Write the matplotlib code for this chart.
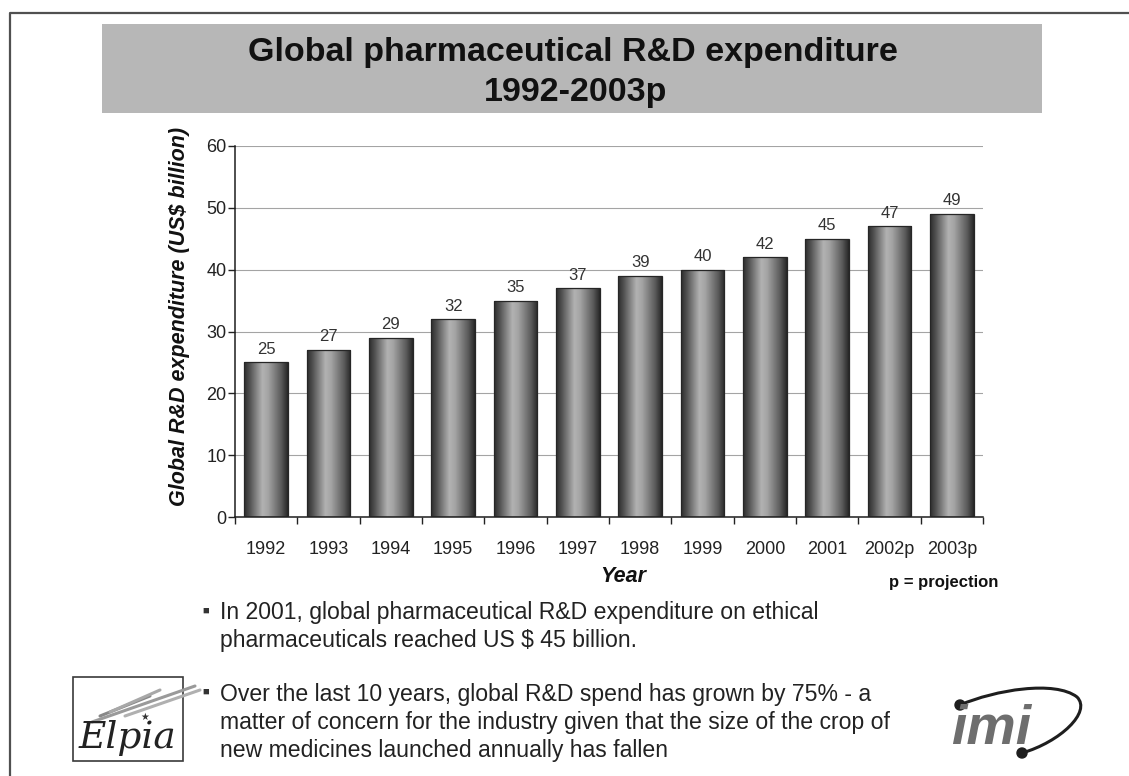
import numpy as np
import matplotlib
matplotlib.use("Agg")
import matplotlib.pyplot as plt
from matplotlib.colors import LinearSegmentedColormap
from matplotlib.patches import Rectangle, PathPatch, Circle
from matplotlib.path import Path

# ---- data -------------------------------------------------------------
years = ["1992", "1993", "1994", "1995", "1996", "1997",
         "1998", "1999", "2000", "2001", "2002p", "2003p"]
spend = [25, 27, 29, 32, 35, 37, 39, 40, 42, 45, 47, 49]
y_ticks = [0, 10, 20, 30, 40, 50, 60]

title_lines = ["Global pharmaceutical R&D expenditure", "1992-2003p"]
y_label = "Global R&D expenditure (US$ billion)"
x_label = "Year"
note = "p = projection"
bullet_1 = ["In 2001, global pharmaceutical R&D expenditure on ethical",
            "pharmaceuticals reached US $ 45 billion."]
bullet_2 = ["Over the last 10 years, global R&D spend has grown by 75% - a",
            "matter of concern for the industry given that the size of the crop of",
            "new medicines launched annually has fallen"]

SANS = ["Liberation Sans", "DejaVu Sans"]

W, H = 1129, 776
fig = plt.figure(figsize=(W / 100, H / 100), dpi=100)
fig.patch.set_facecolor("white")

# page layer in pixel coordinates (y downwards)
page = fig.add_axes([0, 0, 1, 1], zorder=0)
page.set_xlim(0, W)
page.set_ylim(H, 0)
page.axis("off")

# page frame
page.plot([10, 10, W], [H, 13, 13], color="#505050", lw=1.6, solid_capstyle="butt")

# title band
page.add_patch(Rectangle((102, 24), 940, 89, facecolor="#b7b7b7", edgecolor="none"))
page.text(573, 53, title_lines[0], ha="center", va="center", fontsize=24.5,
          fontweight="bold", family=SANS, color="#111111")
page.text(576, 93, title_lines[1], ha="center", va="center", fontsize=24.5,
          fontweight="bold", family=SANS, color="#111111")

# ---- chart ------------------------------------------------------------
ax = fig.add_axes([235 / W, 1 - 517 / H, (983 - 235) / W, (517 - 146) / H], zorder=1)
ax.patch.set_alpha(0)
x = np.arange(len(years))

bars = ax.bar(x, spend, width=0.7, facecolor="none", edgecolor="#262626",
              linewidth=0.9, zorder=3)

# cylinder-style shading inside each bar
cyl = LinearSegmentedColormap.from_list(
    "cyl", [(0.0, "#2c2c2c"), (0.12, "#4e4e4e"), (0.42, "#b2b2b2"),
            (0.55, "#a4a4a4"), (0.85, "#5a5a5a"), (1.0, "#262626")])
grad = np.linspace(0, 1, 256).reshape(1, -1)
for b in bars:
    im = ax.imshow(grad, cmap=cyl, aspect="auto", zorder=2.5,
                   extent=(b.get_x(), b.get_x() + b.get_width(), 0, b.get_height()))
    im.set_clip_path(b)

for xi, v in zip(x, spend):
    ax.annotate(f"{v}", (xi, v), xytext=(0, 4), textcoords="offset points",
                ha="center", va="bottom", fontsize=12, color="#333333", family=SANS)

ax.set_xlim(-0.5, len(years) - 0.5)
ax.set_ylim(0, 60)
ax.set_yticks(y_ticks)
ax.set_xticks(x)
ax.set_xticklabels(years, family=SANS, fontsize=13, color="#222222")
ax.set_xticks(np.arange(-0.5, len(years), 1), minor=True)
for lbl in ax.get_yticklabels():
    lbl.set_family(SANS)
    lbl.set_fontsize(13)
    lbl.set_color("#222222")

ax.tick_params(axis="x", which="major", length=0, pad=17)
ax.tick_params(axis="x", which="minor", length=5, width=1, direction="out", color="#222222")
ax.tick_params(axis="y", length=5, width=1, direction="out", pad=1, color="#222222")

ax.yaxis.grid(True, color="#a4a4a4", lw=0.8)
ax.set_axisbelow(True)
for s in ("top", "right"):
    ax.spines[s].set_visible(False)
for s in ("left", "bottom"):
    ax.spines[s].set_color("#1e1e1e")
    ax.spines[s].set_linewidth(1.1)

# axis titles and note
page.text(180, 316, y_label, rotation=90, ha="center", va="center", fontsize=15.5,
          fontweight="bold", style="italic", family=SANS, color="#111111")
page.text(623, 577, x_label, ha="center", va="center", fontsize=15.5,
          fontweight="bold", style="italic", family=SANS, color="#111111")
page.text(944, 582, note, ha="center", va="center", fontsize=12,
          fontweight="bold", family=SANS, color="#111111")

# ---- bullet text -------------------------------------------------------
def bullet(y0, lines):
    page.text(206, y0 - 2, "\u25A0", ha="center", va="center", fontsize=8,
              color="#333333", family=SANS)
    for i, line in enumerate(lines):
        page.text(220, y0 + 28 * i, line, ha="left", va="center", fontsize=16.6,
                  family=SANS, color="#222222")

bullet(613, bullet_1)
bullet(694, bullet_2)

# ---- Elpia logo -----------------------------------------------------------
page.add_patch(Rectangle((73, 677), 110, 84, facecolor="white",
                         edgecolor="#3a3a3a", lw=1.2))
for (x0, y0, x1, y1, c) in [(92, 722, 195, 686, "#9a9a9a"),
                            (100, 716, 150, 696, "#888888"),
                            (110, 712, 160, 690, "#a8a8a8"),
                            (125, 716, 200, 690, "#b0b0b0")]:
    page.plot([x0, x1], [y0, y1], color=c, lw=2.2, solid_capstyle="round")
page.text(145, 717, "\u2605", ha="center", va="center", fontsize=7, color="#333333",
          family=["DejaVu Sans"])
page.text(127, 738, "Elpia", ha="center", va="center", fontsize=27,
          style="italic", family=["DejaVu Serif"], color="#222222")

# ---- imi logo -------------------------------------------------------------
page.text(991, 730, "imi", ha="center", va="center", fontsize=40,
          fontweight="bold", style="italic", family=SANS, color="#6e6e6e")
arc = Path([(960, 705), (995, 690), (1055, 680), (1077, 697),
            (1092, 712), (1060, 742), (1022, 753)],
           [Path.MOVETO, Path.CURVE4, Path.CURVE4, Path.CURVE4,
            Path.CURVE4, Path.CURVE4, Path.CURVE4])
page.add_patch(PathPatch(arc, facecolor="none", edgecolor="#1e1e1e", lw=2.2))
page.add_patch(Circle((960, 705), 5, color="#1e1e1e"))
page.add_patch(Circle((1022, 753), 5, color="#1e1e1e"))

fig.savefig("out.png", dpi=100, facecolor="white")
